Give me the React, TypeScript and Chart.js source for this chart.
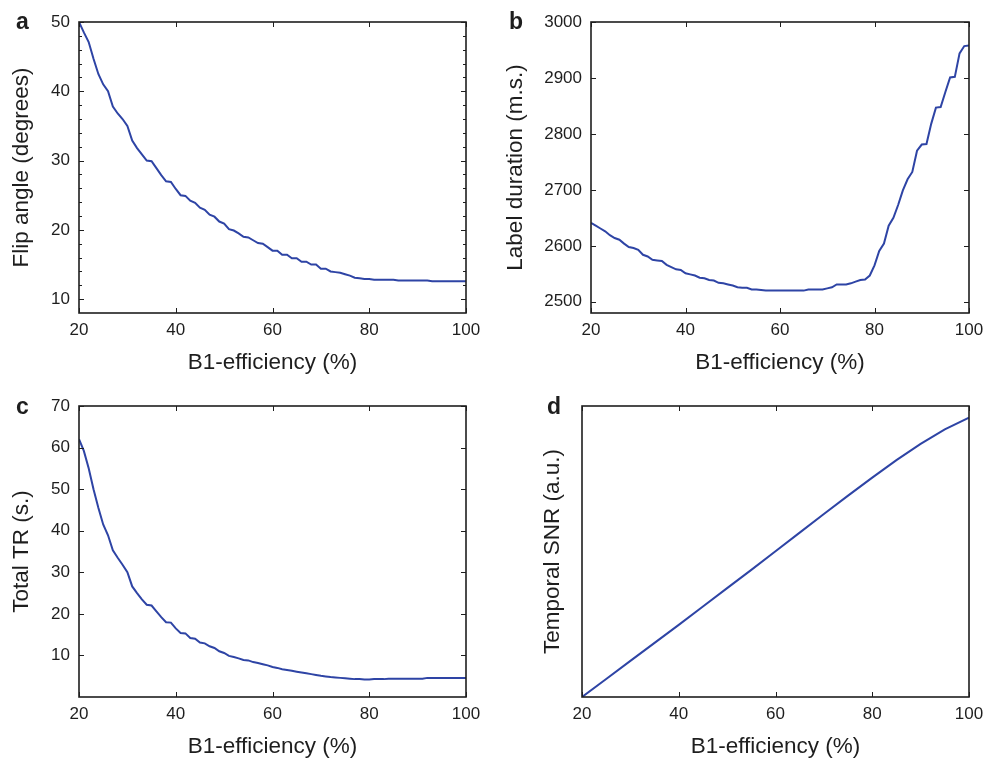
import React, { useEffect, useRef } from "react";
import { Chart, registerables } from "chart.js";

Chart.register(...registerables);

// ---------- data ----------
const B1_EFFICIENCY = [
  20, 21, 22, 23, 24, 25, 26, 27, 28, 29,
  30, 31, 32, 33, 34, 35, 36, 37, 38, 39,
  40, 41, 42, 43, 44, 45, 46, 47, 48, 49,
  50, 51, 52, 53, 54, 55, 56, 57, 58, 59,
  60, 61, 62, 63, 64, 65, 66, 67, 68, 69,
  70, 71, 72, 73, 74, 75, 76, 77, 78, 79,
  80, 81, 82, 83, 84, 85, 86, 87, 88, 89,
  90, 91, 92, 93, 94, 95, 96, 97, 98, 99,
  100,
];

const FLIP_ANGLE = [
  50.0, 48.5, 47.1, 44.7, 42.5, 41.0, 40.0, 37.8, 36.8, 36.0,
  35.0, 32.9, 31.8, 30.9, 30.0, 29.9, 28.9, 27.9, 27.0, 26.9,
  25.9, 25.0, 24.9, 24.2, 23.9, 23.2, 22.9, 22.2, 21.9, 21.2,
  20.9, 20.1, 19.9, 19.5, 19.0, 18.9, 18.5, 18.1, 18.0, 17.5,
  17.0, 17.0, 16.4, 16.4, 15.9, 15.9, 15.4, 15.4, 15.0, 15.0,
  14.4, 14.4, 14.0, 13.9, 13.8, 13.6, 13.4, 13.1, 13.0, 12.9,
  12.9, 12.8, 12.8, 12.8, 12.8, 12.8, 12.7, 12.7, 12.7, 12.7,
  12.7, 12.7, 12.7, 12.6, 12.6, 12.6, 12.6, 12.6, 12.6, 12.6,
  12.6,
];

const LABEL_DURATION = [
  2641, 2636, 2631, 2626, 2619, 2614, 2611, 2604, 2598, 2596,
  2593, 2584, 2581, 2575, 2574, 2573, 2566, 2562, 2558, 2557,
  2551, 2549, 2547, 2543, 2542, 2539, 2538, 2534, 2533, 2531,
  2529, 2526, 2525, 2525, 2522, 2522, 2521, 2520, 2520, 2520,
  2520, 2520, 2520, 2520, 2520, 2520, 2522, 2522, 2522, 2522,
  2524, 2526, 2531, 2531, 2531, 2533, 2536, 2539, 2540, 2547,
  2565, 2591, 2604, 2636, 2650, 2673, 2699, 2719, 2732, 2770,
  2781, 2782, 2818, 2847, 2848, 2875, 2901, 2902, 2944, 2957,
  2958,
];

const TOTAL_TR = [
  62.0, 59.2, 55.0, 50.0, 45.5, 41.5, 38.9, 35.3, 33.5, 31.8,
  30.0, 26.6, 25.0, 23.5, 22.2, 22.0, 20.6, 19.2, 18.0, 17.9,
  16.5, 15.4, 15.3, 14.2, 14.0, 13.1, 12.9, 12.2, 11.8, 11.0,
  10.6, 9.9, 9.6, 9.3, 8.9, 8.8, 8.4, 8.2, 7.9, 7.6,
  7.2, 7.0, 6.7, 6.5, 6.3, 6.1, 5.9, 5.7, 5.5, 5.3,
  5.1, 4.95, 4.8, 4.7, 4.6, 4.5, 4.4, 4.3, 4.3, 4.2,
  4.2, 4.3, 4.3, 4.3, 4.4, 4.4, 4.4, 4.4, 4.4, 4.4,
  4.4, 4.4, 4.6, 4.6, 4.6, 4.6, 4.6, 4.6, 4.6, 4.6,
  4.6,
];

const B1_SNR = [20, 25, 30, 35, 40, 45, 50, 55, 60, 65, 70, 75, 80, 85, 90, 95, 100];
const TEMPORAL_SNR = [
  0, 0.062, 0.124, 0.186, 0.248, 0.311, 0.374, 0.437, 0.501,
  0.565, 0.629, 0.692, 0.754, 0.814, 0.87, 0.92, 0.96,
];

const X_TICKS = [20, 40, 60, 80, 100];
const A_Y_TICKS = [10, 20, 30, 40, 50];
const A_Y_MINOR = [12, 14, 16, 18, 22, 24, 26, 28, 32, 34, 36, 38, 42, 44, 46, 48];
const B_Y_TICKS = [2500, 2600, 2700, 2800, 2900, 3000];
const C_Y_TICKS = [10, 20, 30, 40, 50, 60, 70];

// ---------- style ----------
const FONT = "'Liberation Sans', Arial, Helvetica, sans-serif";
const INK = "#1e1e1e";
const LINE_COLOR = "#2e44a5";
const X_TITLE = "B1-efficiency (%)";

type Spec = {
  letter: string;
  box: [number, number, number, number];
  plot: [number, number, number, number];
  xs: number[];
  ys: number[];
  yMin: number;
  yMax: number;
  yTicks: number[];
  yMinor: number[];
  showYLabels: boolean;
  yTitle: string;
  yTitleX: number;
  xTitleY: number;
  letterPos: [number, number];
};

const SPECS: Spec[] = [
  {
    letter: "a", box: [0, 0, 490, 379], plot: [79, 22, 466, 313],
    xs: B1_EFFICIENCY, ys: FLIP_ANGLE, yMin: 8, yMax: 50,
    yTicks: A_Y_TICKS, yMinor: A_Y_MINOR, showYLabels: true,
    yTitle: "Flip angle (degrees)", yTitleX: 22, xTitleY: 362.5, letterPos: [16, 29],
  },
  {
    letter: "b", box: [490, 0, 510, 379], plot: [591, 22, 969, 313],
    xs: B1_EFFICIENCY, ys: LABEL_DURATION, yMin: 2480, yMax: 3000,
    yTicks: B_Y_TICKS, yMinor: [], showYLabels: true,
    yTitle: "Label duration (m.s.)", yTitleX: 515.5, xTitleY: 362.5, letterPos: [509, 29],
  },
  {
    letter: "c", box: [0, 379, 490, 379], plot: [79, 406, 466, 697],
    xs: B1_EFFICIENCY, ys: TOTAL_TR, yMin: 0, yMax: 70,
    yTicks: C_Y_TICKS, yMinor: [], showYLabels: true,
    yTitle: "Total TR (s.)", yTitleX: 22, xTitleY: 746.5, letterPos: [16, 414],
  },
  {
    letter: "d", box: [490, 379, 510, 379], plot: [582, 406, 969, 697],
    xs: B1_SNR, ys: TEMPORAL_SNR, yMin: 0, yMax: 1,
    yTicks: [], yMinor: [], showYLabels: false,
    yTitle: "Temporal SNR (a.u.)", yTitleX: 553, xTitleY: 746.5, letterPos: [547, 414],
  },
];

const TITLE_SIZE = 22.5;
const TICK_SIZE = 17;

function Panel({ spec }: { spec: Spec }) {
  const ref = useRef<HTMLCanvasElement | null>(null);

  useEffect(() => {
    const canvas = ref.current;
    if (!canvas) return;
    const [cx, cy, cw, ch] = spec.box;
    const [L, T, R, B] = spec.plot;
    const halfTitle = (TITLE_SIZE * 1.2) / 2;

    const framePlugin = {
      id: "frame_" + spec.letter,
      afterDatasetsDraw(chart: any) {
        const { ctx, chartArea: a, scales } = chart;
        ctx.save();
        ctx.strokeStyle = INK;
        ctx.lineWidth = 1;
        ctx.beginPath();
        for (const v of X_TICKS) {
          const p = Math.round(scales.x.getPixelForValue(v)) + 0.5;
          ctx.moveTo(p, a.bottom);
          ctx.lineTo(p, a.bottom - 5);
          ctx.moveTo(p, a.top);
          ctx.lineTo(p, a.top + 5);
        }
        for (const v of spec.yTicks) {
          const p = Math.round(scales.y.getPixelForValue(v)) + 0.5;
          ctx.moveTo(a.left, p);
          ctx.lineTo(a.left + 5, p);
          ctx.moveTo(a.right, p);
          ctx.lineTo(a.right - 5, p);
        }
        for (const v of spec.yMinor) {
          const p = Math.round(scales.y.getPixelForValue(v)) + 0.5;
          ctx.moveTo(a.left, p);
          ctx.lineTo(a.left + 3, p);
          ctx.moveTo(a.right, p);
          ctx.lineTo(a.right - 3, p);
        }
        ctx.stroke();
        ctx.lineWidth = 1.6;
        ctx.strokeRect(a.left, a.top, a.right - a.left, a.bottom - a.top);
        ctx.fillStyle = INK;
        ctx.font = `bold 23px ${FONT}`;
        ctx.textAlign = "left";
        ctx.textBaseline = "alphabetic";
        ctx.fillText(spec.letter, spec.letterPos[0] - cx, spec.letterPos[1] - cy);
        ctx.restore();
      },
    };

    const chart = new Chart(canvas, {
      type: "line",
      data: {
        datasets: [
          {
            data: spec.xs.map((x, i) => ({ x, y: spec.ys[i] })),
            borderColor: LINE_COLOR,
            borderWidth: 2,
            pointRadius: 0,
            tension: 0,
            fill: false,
          },
        ],
      },
      options: {
        responsive: false,
        animation: false,
        layout: { padding: { left: 0, top: T - cy, right: cx + cw - R, bottom: 0 } },
        plugins: { legend: { display: false }, tooltip: { enabled: false } },
        scales: {
          x: {
            type: "linear",
            position: "bottom",
            min: 20,
            max: 100,
            afterBuildTicks: (s: any) => {
              s.ticks = X_TICKS.map((v) => ({ value: v }));
            },
            afterFit: (s: any) => {
              s.height = cy + ch - B;
            },
            grid: { display: false, drawTicks: false },
            border: { display: false },
            ticks: {
              font: { family: FONT, size: TICK_SIZE },
              color: INK,
              padding: 7,
              maxRotation: 0,
              autoSkip: false,
              callback: (v: any) => String(v),
            },
            title: {
              display: true,
              text: X_TITLE,
              color: INK,
              font: { family: FONT, size: TITLE_SIZE },
              padding: { top: 0, bottom: cy + ch - spec.xTitleY - halfTitle },
            },
          },
          y: {
            type: "linear",
            position: "left",
            min: spec.yMin,
            max: spec.yMax,
            afterBuildTicks: (s: any) => {
              if (spec.yTicks.length) s.ticks = spec.yTicks.map((v) => ({ value: v }));
            },
            afterFit: (s: any) => {
              s.width = L - cx;
            },
            grid: { display: false, drawTicks: false },
            border: { display: false },
            ticks: {
              display: spec.showYLabels,
              font: { family: FONT, size: TICK_SIZE },
              color: INK,
              padding: 9,
              autoSkip: false,
              callback: (v: any) => String(v),
            },
            title: {
              display: true,
              text: spec.yTitle,
              color: INK,
              font: { family: FONT, size: TITLE_SIZE },
              padding: { top: spec.yTitleX - cx - halfTitle, bottom: 0 },
            },
          },
        },
      } as any,
      plugins: [framePlugin],
    });

    return () => chart.destroy();
  }, [spec]);

  const [cx, cy, cw, ch] = spec.box;
  return (
    <canvas
      ref={ref}
      width={cw}
      height={ch}
      style={{ position: "absolute", left: cx, top: cy, width: cw, height: ch }}
    />
  );
}

export default function App() {
  return (
    <div
      style={{
        position: "absolute",
        left: 0,
        top: 0,
        width: 984,
        height: 758,
        background: "#ffffff",
        overflow: "hidden",
      }}
    >
      {SPECS.map((s) => (
        <Panel key={s.letter} spec={s} />
      ))}
    </div>
  );
}
